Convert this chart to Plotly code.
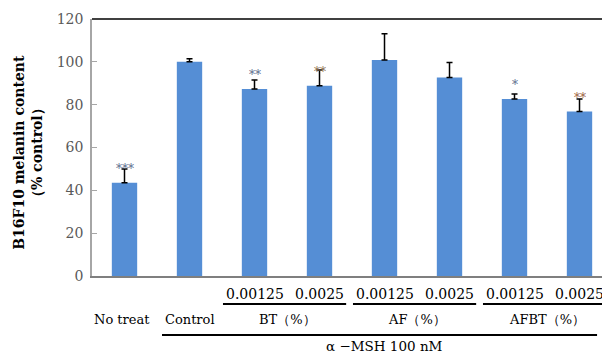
import plotly.graph_objects as go

categories = ["No treat", "Control", "BT 0.00125", "BT 0.0025", "AF 0.00125", "AF 0.0025", "AFBT 0.00125", "AFBT 0.0025"]
values = [43.5, 100.0, 87.3, 88.8, 100.8, 92.7, 82.7, 76.8]
errors = [6.5, 1.4, 4.2, 7.4, 12.3, 7.0, 2.3, 5.8]
stars = ["***", "", "**", "**", "", "", "*", "**"]
star_colors = ["#5b6b8c", "#5b6b8c", "#5b6b8c", "#8a6a4a", "#5b6b8c", "#5b6b8c", "#5b6b8c", "#9a5a3a"]
star_shift = [2, 0, 7, 0, 0, 0, 11, 3]
dose_labels = ["0.00125", "0.0025", "0.00125", "0.0025", "0.00125", "0.0025"]
group_labels = ["BT（%）", "AF（%）", "AFBT（%）"]
single_labels = ["No treat", "Control"]
bottom_label = "α −MSH 100 nM"
y_ticks = [0, 20, 40, 60, 80, 100, 120]

SERIF = "DejaVu Serif"
xs = list(range(len(categories)))

fig = go.Figure()
fig.add_trace(go.Bar(
    x=xs, y=values, width=0.39,
    marker=dict(color="#558ed5", line=dict(width=0)),
    error_y=dict(type="data", array=errors, symmetric=False, arrayminus=[0]*len(errors),
                 color="black", thickness=1.5, width=3),
    showlegend=False,
))

ann = []
for i, s in enumerate(stars):
    if s:
        ann.append(dict(x=xs[i], y=values[i] + errors[i], xref="x", yref="y", text=s,
                        showarrow=False, yanchor="middle", yshift=star_shift[i] - 2,
                        font=dict(family=SERIF, size=12, color=star_colors[i])))

# dose labels
for k, d in enumerate(dose_labels):
    ann.append(dict(x=xs[2 + k], y=-0.070, xref="x", yref="paper", text=d, showarrow=False,
                    yanchor="middle", font=dict(family=SERIF, size=14, color="black")))
# single labels
for k, t in enumerate(single_labels):
    ann.append(dict(x=xs[k], y=-0.171, xref="x", yref="paper", text=t, showarrow=False,
                    yanchor="middle", xshift=-3 if k == 0 else 0,
                    font=dict(family=SERIF, size=13, color="black")))
# group labels
for g, t in enumerate(group_labels):
    ann.append(dict(x=xs[2 + 2 * g] + 0.5, y=-0.171, xref="x", yref="paper", text=t, showarrow=False,
                    yanchor="middle", font=dict(family=SERIF, size=13, color="black")))
ann.append(dict(x=4.0, y=-0.272, xref="x", yref="paper", text=bottom_label,
                showarrow=False, yanchor="middle", xanchor="center", borderpad=0,
                font=dict(family=SERIF, size=13.5, color="black")))
# y title
ann.append(dict(x=-0.127, y=0.48, xref="paper", yref="paper", textangle=-90, showarrow=False,
                xanchor="center", yanchor="middle",
                text="<b>B16F10 melanin content<br>（% control）</b>", align="center",
                font=dict(family=SERIF, size=14, color="black")))

shapes = []
for g in range(3):
    i = xs[2 + 2 * g]
    shapes.append(dict(type="line", xref="x", yref="paper", x0=i - 0.485, x1=i + 1.41,
                       y0=-0.109, y1=-0.109, line=dict(color="black", width=2)))
shapes.append(dict(type="line", xref="x", yref="paper", x0=0.577, x1=7.27,
                   y0=-0.2296, y1=-0.2296, line=dict(color="black", width=2)))
shapes.append(dict(type="line", xref="paper", yref="paper", x0=0, x1=1.02, y0=1, y1=1,
                   line=dict(color="black", width=1.5)))

fig.update_layout(
    width=602, height=355,
    margin=dict(l=92, r=0, t=19, b=79),
    paper_bgcolor="white", plot_bgcolor="white",
    annotations=ann, shapes=shapes,
    xaxis=dict(range=[-0.5, 7.346], showticklabels=False, ticks="", showgrid=False,
               zeroline=False, showline=True, linecolor="#7f7f7f", linewidth=1.5),
    yaxis=dict(range=[0, 120], tickvals=y_ticks, ticks="inside", ticklen=5, tickcolor="#a6a6a6",
               showgrid=False, zeroline=False, showline=True, linecolor="#a6a6a6", linewidth=1.5,
               tickfont=dict(family=SERIF, size=14, color="#595959"), ticklabelstandoff=4),
)

fig.write_html("out.html")
